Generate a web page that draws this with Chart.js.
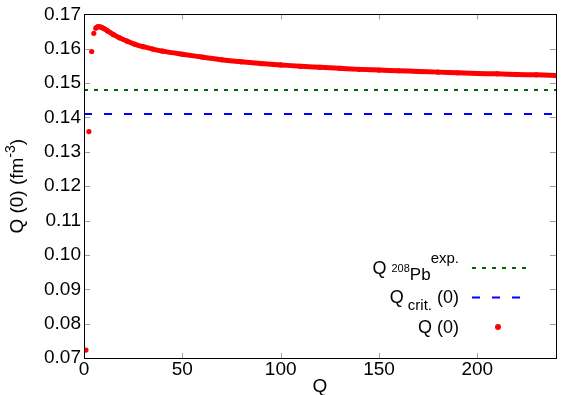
<!DOCTYPE html>
<html>
<head>
<meta charset="utf-8">
<script src="https://cdn.jsdelivr.net/npm/chart.js@4.4.1/dist/chart.umd.min.js"></script>
<style>
html, body { margin: 0; padding: 0; background: #fff; }
#wrap { width: 564px; height: 395px; position: relative; }
</style>
</head>
<body>
<div id="wrap"><canvas id="chart" width="564" height="395"></canvas></div>
<script>
// rho(0) against Q, first few points stand apart from the dense curve
var qEarly = [1, 2.5, 3.9, 5];
var rhoEarly = [0.0723, 0.1359, 0.1592, 0.1645];

var qCurve = [6, 7, 8, 9, 10, 12, 15, 18, 22, 26, 30, 35, 40, 50, 60, 70, 80, 90, 100,
              110, 120, 130, 140, 150, 160, 170, 180, 190, 200, 210, 220, 230, 240];
var rhoCurve = [0.1660, 0.1664, 0.1664, 0.1662, 0.1659, 0.1652, 0.1641, 0.1632, 0.1622, 0.1613,
                0.1606, 0.1599, 0.1593, 0.1584, 0.1576, 0.1568, 0.1562, 0.1557, 0.1553,
                0.1549, 0.1546, 0.1543, 0.1540, 0.1538, 0.1536, 0.1534, 0.1532, 0.1530,
                0.1528, 0.1527, 0.1525, 0.1524, 0.1522];

var rhoPbExp = 0.148;   // 208Pb experimental
var rhoCrit = 0.141;    // critical

var xRange = [0, 240];
var yRange = [0.07, 0.17];
var xTicks = [0, 50, 100, 150, 200];
var yTicks = [0.07, 0.08, 0.09, 0.10, 0.11, 0.12, 0.13, 0.14, 0.15, 0.16, 0.17];

var FONT = '"Liberation Sans", Arial, Helvetica, sans-serif';
Chart.defaults.font.family = FONT;
Chart.defaults.color = '#000';

function toPoints(xs, ys) {
    return xs.map(function(x, i) { return { x: x, y: ys[i] }; });
}

function font(size) {
    return size + 'px ' + FONT;
}

// draw a run of text pieces (size, vertical shift) ending at rightX
function drawPieces(ctx, pieces, rightX, baseY) {
    var widths = pieces.map(function(p) {
        ctx.font = font(p.size);
        return ctx.measureText(p.text).width;
    });
    var total = widths.reduce(function(a, b) { return a + b; }, 0);
    var x = rightX - total;
    ctx.textAlign = 'left';
    ctx.textBaseline = 'alphabetic';
    pieces.forEach(function(p, i) {
        ctx.font = font(p.size);
        ctx.fillText(p.text, x, baseY + (p.dy || 0));
        x += widths[i];
    });
    return total;
}

var framePlugin = {
    id: 'frame',
    afterDraw: function(chart) {
        var ctx = chart.ctx,
            area = chart.chartArea,
            xs = chart.scales.x,
            ys = chart.scales.y;

        ctx.save();
        // inward tick marks on all four sides
        ctx.strokeStyle = '#a0a0a0';
        ctx.lineWidth = 1;
        ctx.setLineDash([]);
        ctx.beginPath();
        xTicks.forEach(function(v) {
            var px = Math.round(xs.getPixelForValue(v)) + 0.5;
            ctx.moveTo(px, area.bottom); ctx.lineTo(px, area.bottom - 5);
            ctx.moveTo(px, area.top); ctx.lineTo(px, area.top + 5);
        });
        yTicks.forEach(function(v) {
            var py = Math.round(ys.getPixelForValue(v)) + 0.5;
            ctx.moveTo(area.left, py); ctx.lineTo(area.left + 6, py);
            ctx.moveTo(area.right, py); ctx.lineTo(area.right - 6, py);
        });
        ctx.stroke();

        // border
        ctx.strokeStyle = '#000';
        ctx.strokeRect(Math.round(area.left) + 0.5, Math.round(area.top) + 0.5,
                       Math.round(area.right - area.left), Math.round(area.bottom - area.top));

        // axis titles
        ctx.fillStyle = '#000';
        ctx.font = font(19);
        ctx.textAlign = 'center';
        ctx.textBaseline = 'alphabetic';
        ctx.fillText('Q', (area.left + area.right) / 2, 392);

        ctx.save();
        ctx.translate(23, (area.top + area.bottom) / 2);
        ctx.rotate(-Math.PI / 2);
        var yTitle = [
            { text: 'Q (0) (fm', size: 19 },
            { text: '-3', size: 14, dy: -8 },
            { text: ')', size: 19 }
        ];
        var w = 0;
        yTitle.forEach(function(p) { ctx.font = font(p.size); w += ctx.measureText(p.text).width; });
        drawPieces(ctx, yTitle, w / 2, 0);
        ctx.restore();

        // key, bottom right inside the plot
        var keyRight = 459;
        drawPieces(ctx, [
            { text: 'Q ', size: 18 },
            { text: '208', size: 11, dy: -2 },
            { text: 'Pb', size: 17, dy: 6 },
            { text: 'exp.', size: 15, dy: -11 }
        ], keyRight, 274);
        drawPieces(ctx, [
            { text: 'Q', size: 18 },
            { text: ' crit.', size: 15, dy: 7 },
            { text: ' (0)', size: 18 }
        ], keyRight, 303);
        drawPieces(ctx, [{ text: 'Q (0)', size: 18 }], keyRight, 333);

        ctx.lineWidth = 2;
        ctx.strokeStyle = '#006400';
        ctx.setLineDash([4, 6]);
        ctx.beginPath(); ctx.moveTo(472, 268); ctx.lineTo(526, 268); ctx.stroke();
        ctx.strokeStyle = '#0000ff';
        ctx.setLineDash([8, 12]);
        ctx.beginPath(); ctx.moveTo(472, 297.5); ctx.lineTo(520, 297.5); ctx.stroke();
        ctx.setLineDash([]);
        ctx.fillStyle = '#ff0000';
        ctx.beginPath(); ctx.arc(498, 327, 3, 0, Math.PI * 2); ctx.fill();
        ctx.restore();
    }
};

new Chart(document.getElementById('chart').getContext('2d'), {
    type: 'scatter',
    data: {
        datasets: [{
            label: 'rho 208Pb exp.',
            data: toPoints(xRange, [rhoPbExp, rhoPbExp]),
            showLine: true,
            borderColor: '#006400',
            borderWidth: 2,
            borderDash: [4, 6],
            pointRadius: 0
        }, {
            label: 'rho crit.(0)',
            data: toPoints(xRange, [rhoCrit, rhoCrit]),
            showLine: true,
            borderColor: '#0000ff',
            borderWidth: 2,
            borderDash: [8, 12],
            pointRadius: 0
        }, {
            label: 'rho(0)',
            data: toPoints(qEarly, rhoEarly),
            showLine: false,
            backgroundColor: '#ff0000',
            borderWidth: 0,
            pointRadius: 2.6
        }, {
            label: 'rho(0) curve',
            data: toPoints(qCurve, rhoCurve),
            showLine: true,
            borderColor: '#ff0000',
            borderWidth: 5,
            cubicInterpolationMode: 'monotone',
            backgroundColor: '#ff0000',
            pointRadius: 2.6,
            pointBorderWidth: 0
        }]
    },
    options: {
        responsive: false,
        animation: false,
        layout: { padding: { top: 9, right: 8, left: 0, bottom: 0 } },
        plugins: {
            legend: { display: false },
            tooltip: { enabled: false }
        },
        scales: {
            x: {
                type: 'linear',
                min: xRange[0],
                max: xRange[1],
                afterBuildTicks: function(scale) {
                    scale.ticks = xTicks.map(function(v) { return { value: v }; });
                },
                afterFit: function(scale) { scale.height = 37; },
                ticks: { font: { size: 19 }, padding: 0, maxRotation: 0 },
                grid: { display: false, drawTicks: false },
                border: { display: false }
            },
            y: {
                min: yRange[0],
                max: yRange[1],
                afterBuildTicks: function(scale) {
                    scale.ticks = yTicks.map(function(v) { return { value: v }; });
                },
                afterFit: function(scale) { scale.width = 84; },
                ticks: {
                    font: { size: 19 },
                    padding: 3,
                    callback: function(v) { return v.toFixed(2); }
                },
                grid: { display: false, drawTicks: false },
                border: { display: false }
            }
        }
    },
    plugins: [framePlugin]
});
</script>
</body>
</html>
